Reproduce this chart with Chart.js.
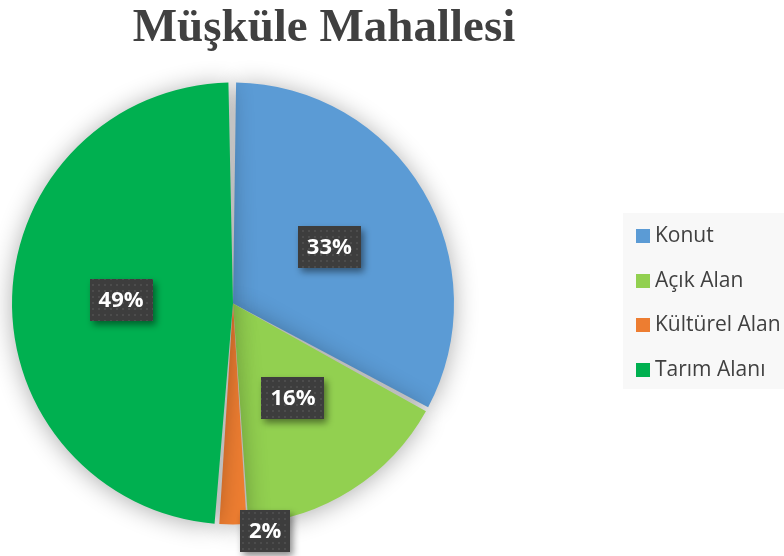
<!DOCTYPE html>
<html>
<head>
<meta charset="utf-8">
<script src="https://cdn.jsdelivr.net/npm/chart.js@4"></script>
<style>
  html, body { margin: 0; padding: 0; background: #ffffff; }
  #wrap { width: 784px; height: 556px; position: relative; }
</style>
</head>
<body>
<div id="wrap"><canvas id="c" width="784" height="556"></canvas></div>
<script>
// Land use shares (percent)
const titleText = 'Müşküle Mahallesi';
const categories = ['Konut', 'Açık Alan', 'Kültürel Alan', 'Tarım Alanı'];
const shares = [33, 16, 2, 49];
const sliceColors = ['#5B9BD5', '#92D050', '#ED7D31', '#00B050'];

// Dotted dark fill used behind the value labels
function makeDotPattern(ctx) {
  const t = document.createElement('canvas');
  t.width = 6; t.height = 6;
  const g = t.getContext('2d');
  g.fillStyle = '#3d3d3d';
  g.fillRect(0, 0, 6, 6);
  g.fillStyle = '#4c4c4c';
  g.fillRect(2, 2, 2, 2);
  return ctx.createPattern(t, 'repeat');
}

// Soft shadow around the pie
const pieShadow = {
  id: 'pieShadow',
  beforeDatasetsDraw(chart) {
    const ctx = chart.ctx;
    ctx.save();
    ctx.shadowColor = 'rgba(0,0,0,0.32)';
    ctx.shadowBlur = 24;
    ctx.shadowOffsetX = 0;
    ctx.shadowOffsetY = 2;
  },
  afterDatasetsDraw(chart) {
    chart.ctx.restore();
  }
};

// Percentage labels in dark boxes
const valueBoxes = {
  id: 'valueBoxes',
  afterDatasetsDraw(chart) {
    const ctx = chart.ctx;
    const meta = chart.getDatasetMeta(0);
    const data = chart.data.datasets[0].data;
    const total = data.reduce((a, b) => a + b, 0);
    const pattern = makeDotPattern(ctx);
    ctx.save();
    ctx.font = 'bold 22px "Open Sans", sans-serif';
    ctx.textAlign = 'center';
    ctx.textBaseline = 'middle';
    meta.data.forEach((arc, i) => {
      const p = arc.getProps(['x', 'y', 'startAngle', 'endAngle', 'outerRadius'], true);
      const mid = (p.startAngle + p.endAngle) / 2;
      const frac = data[i] / total;
      const text = Math.round(frac * 100) + '%';
      const tw = ctx.measureText(text).width;
      const w = tw + 18, h = 42;
      let cx, cy;
      if (frac < 0.05) {
        const r = p.outerRadius + 8;
        cx = p.x + Math.cos(mid) * r + w / 2 + 7;
        cy = p.y + Math.sin(mid) * r;
      } else {
        const r = p.outerRadius * 0.51;
        cx = p.x + Math.cos(mid) * r;
        cy = p.y + Math.sin(mid) * r;
      }
      ctx.save();
      ctx.shadowColor = 'rgba(0,0,0,0.45)';
      ctx.shadowBlur = 7;
      ctx.shadowOffsetX = 3;
      ctx.shadowOffsetY = 4;
      ctx.fillStyle = pattern;
      ctx.fillRect(Math.round(cx - w / 2), Math.round(cy - h / 2), Math.round(w), h);
      ctx.restore();
      ctx.fillStyle = '#ffffff';
      ctx.fillText(text, cx, cy + 1);
    });
    ctx.restore();
  }
};

// Title and legend panel
const frame = {
  id: 'frame',
  afterDraw(chart) {
    const ctx = chart.ctx;
    ctx.save();
    ctx.fillStyle = '#404040';
    ctx.font = 'bold 47px "Liberation Serif", "Times New Roman", serif';
    ctx.textAlign = 'center';
    ctx.textBaseline = 'alphabetic';
    ctx.fillText(titleText, 324, 41);

    ctx.fillStyle = '#f8f8f8';
    ctx.fillRect(623, 213, 161, 176);
    ctx.font = '21px "Open Sans", sans-serif';
    ctx.textAlign = 'left';
    ctx.textBaseline = 'middle';
    categories.forEach((name, i) => {
      const y = 236 + i * 44.7;
      ctx.fillStyle = sliceColors[i];
      ctx.fillRect(636, Math.round(y - 7), 14, 14);
      ctx.fillStyle = '#404040';
      ctx.fillText(name, 655, y);
    });
    ctx.restore();
  }
};

new Chart(document.getElementById('c'), {
  type: 'pie',
  data: {
    labels: categories,
    datasets: [{
      data: shares,
      backgroundColor: sliceColors,
      borderWidth: 0,
      spacing: 3
    }]
  },
  options: {
    responsive: false,
    animation: false,
    rotation: 0,
    layout: { padding: { left: 12, right: 330, top: 82, bottom: 31 } },
    plugins: {
      legend: { display: false },
      title: { display: false },
      tooltip: { enabled: false }
    }
  },
  plugins: [pieShadow, valueBoxes, frame]
});
</script>
</body>
</html>
